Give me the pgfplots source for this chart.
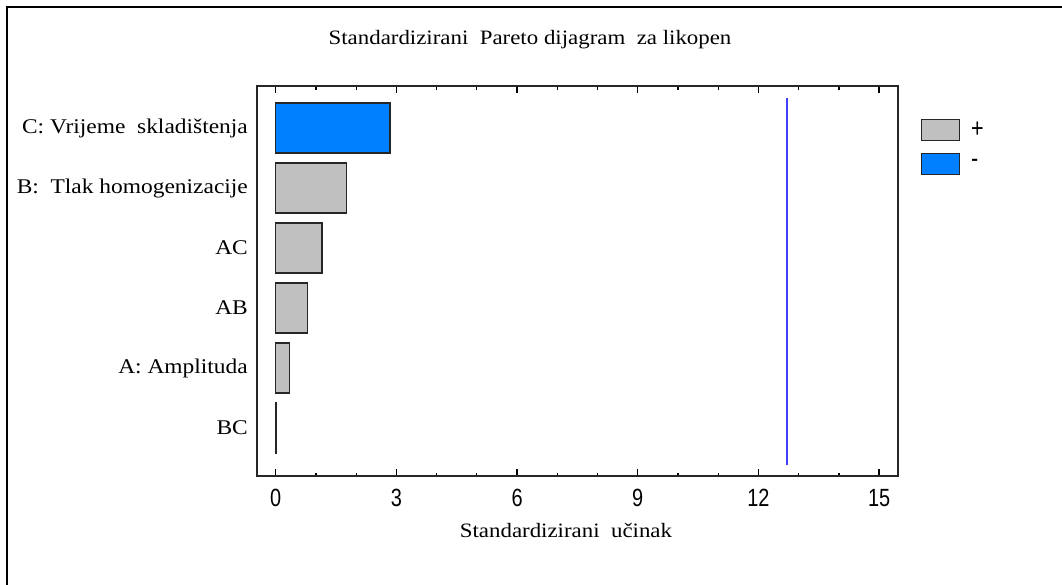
\documentclass[border=0pt]{standalone}
\usepackage{fontspec}
\setmainfont{Liberation Serif}[FakeStretch=1.12]
\newfontfamily\ticksans{Liberation Sans}[FakeStretch=0.8]
\usepackage{pgfplots}
\pgfplotsset{compat=1.18}
\definecolor{barplus}{RGB}{192,192,192}
\definecolor{barminus}{RGB}{0,128,255}
\definecolor{refline}{RGB}{64,64,255}
\begin{document}
\begin{tikzpicture}[x=1bp,y=1bp]
\useasboundingbox (0,0) rectangle (1062,-585);
\draw[line width=2.5bp] (7,-585) -- (7,-7) -- (1062,-7);
\node[font=\fontsize{20.5}{24}\selectfont] at (530,-40) {Standardizirani\ \ Pareto dijagram\ \ za likopen};
\begin{axis}[
  at={(257bp,-476bp)}, anchor=south west,
  scale only axis, width=641bp, height=390bp,
  xmin=-0.465, xmax=15.47, ymin=0.2, ymax=6.7,
  xbar, bar shift=0pt, bar width=50bp,
  xtick={0,3,...,15}, minor x tick num=2,
  ytick={1,...,6},
  yticklabels={BC, A: Amplituda, AB, AC, B:\ \ Tlak homogenizacije, C: Vrijeme\ \ skladištenja},
  tick align=inside, major tick length=7bp, minor tick length=3.5bp,
  y tick style={draw=none},
  tick style={line width=1.3bp, black},
  axis line style={line width=1.3bp, black!85},
  /pgf/number format/assume math mode=true,
  xticklabel style={font=\ticksans\fontsize{25}{28}\selectfont, anchor=center, yshift=-22bp},
  yticklabel style={font=\fontsize{21}{24}\selectfont, anchor=east, inner sep=0pt, xshift=-9bp},
  xlabel={Standardizirani\ \ učinak},
  every axis x label/.style={at={(axis description cs:0.482,0)}, anchor=center, yshift=-54bp, font=\fontsize{20.5}{24}\selectfont},
  legend image code/.code={\draw[#1] (0bp,-10.5bp) rectangle (38bp,10.5bp);},
  legend style={at={(1.0359,0.9154)}, anchor=north west, draw=none, fill=none,
    inner sep=0pt, outer sep=0pt, row sep=12bp, column sep=11bp,
    font=\ticksans\fontsize{27}{30}\selectfont,
    nodes={inner sep=0pt, anchor=west}},
  legend cell align=left,
]
\addplot[fill=barplus, draw=black!85, line width=1.2bp] coordinates {(1.76,5) (1.15,4) (0.79,3) (0.34,2) (0.01,1)};
\addplot[fill=barminus, draw=black!85, line width=1.2bp] coordinates {(2.84,6)};
\addplot[refline, line width=2bp, forget plot, sharp plot] coordinates {(12.706,0.38) (12.706,6.5)};
\legend{+,-}
\end{axis}
\end{tikzpicture}
\end{document}
